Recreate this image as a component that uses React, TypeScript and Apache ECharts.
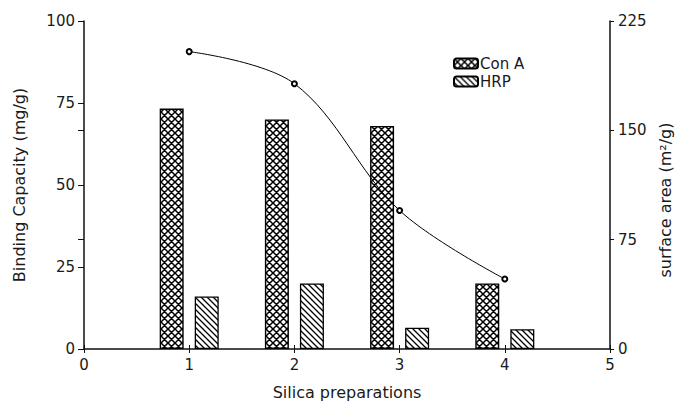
import React, { useEffect, useRef } from "react";
import * as echarts from "echarts";

const preparations = [1, 2, 3, 4];
const conA = [73.3, 70, 68, 20];
const hrp = [16, 20, 6.5, 6];
const surfaceArea = [204, 182, 95, 48];
const leftTicks = { min: 0, max: 100, interval: 25 };
const rightTicks = { min: 0, max: 225, interval: 75 };
const xTicks = { min: 0, max: 5, interval: 1 };

function makeTile(kind: "cross" | "diag") {
  const s = kind === "cross" ? 7 : 6;
  const c = document.createElement("canvas");
  c.width = s;
  c.height = s;
  const ctx = c.getContext("2d")!;
  ctx.fillStyle = "#fff";
  ctx.fillRect(0, 0, s, s);
  ctx.strokeStyle = "#000";
  ctx.lineWidth = kind === "cross" ? 1.5 : 1.3;
  ctx.beginPath();
  ctx.moveTo(-1, -1);
  ctx.lineTo(s + 1, s + 1);
  ctx.moveTo(-1, s - 1);
  ctx.lineTo(1, s + 1);
  ctx.moveTo(s - 1, -1);
  ctx.lineTo(s + 1, 1);
  if (kind === "cross") {
    ctx.moveTo(s + 1, -1);
    ctx.lineTo(-1, s + 1);
    ctx.moveTo(1, -1);
    ctx.lineTo(-1, 1);
    ctx.moveTo(s + 1, s - 1);
    ctx.lineTo(s - 1, s + 1);
  }
  ctx.stroke();
  return { image: c, repeat: "repeat", imageWidth: s, imageHeight: s } as any;
}

export default function App() {
  const ref = useRef<HTMLDivElement>(null);
  useEffect(() => {
    if (!ref.current) return;
    const chart = echarts.init(ref.current, null, { renderer: "svg" });
    const font = "DejaVu Sans";
    const txt = "#1a1a1a";
    const axisLine = { show: true, lineStyle: { color: "#111", width: 1.5 } };
    const gridBox = {
      left: 84,
      right: 67,
      top: 21,
      bottom: 53,
      containLabel: false,
      outerBoundsMode: "none",
    };
    chart.setOption({
      animation: false,
      backgroundColor: "#fff",
      textStyle: { fontFamily: font },
      grid: [gridBox, gridBox],
      legend: {
        data: ["Con A", "HRP"],
        orient: "vertical",
        left: 448,
        top: 51,
        itemWidth: 24,
        itemHeight: 10,
        itemGap: 3,
        textStyle: { fontSize: 15, color: txt, fontFamily: font, padding: [0, 0, 0, -3] },
      },
      xAxis: [
        {
          type: "value",
          gridIndex: 0,
          ...xTicks,
          axisLine,
          axisTick: { show: true, inside: true, length: 4, lineStyle: { color: "#111" } },
          axisLabel: { fontSize: 15, color: txt, margin: 8, fontFamily: font },
          splitLine: { show: false },
          name: "Silica preparations",
          nameLocation: "middle",
          nameGap: 35,
          nameTextStyle: { fontSize: 16, color: txt, fontFamily: font },
        },
        {
          type: "value",
          gridIndex: 1,
          ...xTicks,
          axisLine: { show: false },
          axisTick: { show: true, length: 4, lineStyle: { color: "#111" } },
          axisLabel: { show: false },
          splitLine: { show: false },
        },
      ],
      yAxis: [
        {
          type: "value",
          gridIndex: 0,
          ...leftTicks,
          position: "left",
          axisLine,
          axisTick: { show: true, length: 6, lineStyle: { color: "#111" } },
          axisLabel: { fontSize: 15, color: txt, margin: 9, fontFamily: font },
          splitLine: { show: false },
          name: "Binding Capacity (mg/g)",
          nameLocation: "middle",
          nameGap: 57,
          nameTextStyle: { fontSize: 16, color: txt, fontFamily: font },
        },
        {
          type: "value",
          gridIndex: 0,
          ...rightTicks,
          position: "right",
          axisLine,
          axisTick: { show: true, length: 4, lineStyle: { color: "#111" } },
          axisLabel: { fontSize: 15, color: txt, margin: 8, fontFamily: font },
          splitLine: { show: false },
          name: "surface area (m²/g)",
          nameLocation: "middle",
          nameGap: 46,
          nameTextStyle: {
            fontSize: 16,
            color: txt,
            fontFamily: font,
            padding: [0, 30, 0, 0],
          },
        },
        {
          type: "value",
          gridIndex: 1,
          ...rightTicks,
          position: "right",
          axisLine: { show: false },
          axisTick: { show: true, inside: true, length: 6, lineStyle: { color: "#111" } },
          axisLabel: { show: false },
          splitLine: { show: false },
        },
      ],
      series: [
        {
          name: "Con A",
          type: "bar",
          barWidth: 24,
          barGap: "46%",
          data: preparations.map((p, i) => [p, conA[i]]),
          itemStyle: { color: makeTile("cross"), borderColor: "#000", borderWidth: 1.4 },
        },
        {
          name: "HRP",
          type: "bar",
          barWidth: 24,
          data: preparations.map((p, i) => [p, hrp[i]]),
          itemStyle: { color: makeTile("diag"), borderColor: "#000", borderWidth: 1.3 },
        },
        {
          name: "surface area",
          type: "line",
          yAxisIndex: 1,
          smooth: 0.35,
          symbol: "emptyCircle",
          symbolSize: 5,
          data: preparations.map((p, i) => [p, surfaceArea[i]]),
          lineStyle: { color: "#000", width: 1 },
          itemStyle: { color: "#000", borderWidth: 1 },
        },
      ],
    });
    return () => chart.dispose();
  }, []);
  return (
    <div
      ref={ref}
      style={{ position: "fixed", left: 0, top: 0, width: 677, height: 402 }}
    />
  );
}
